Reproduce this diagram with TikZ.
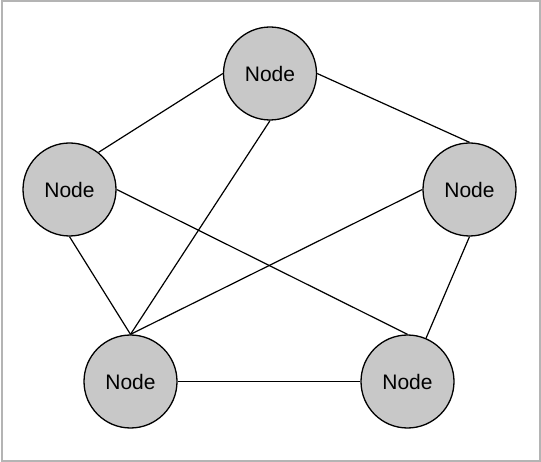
\documentclass[tikz,border=0pt]{standalone}
\usepackage{fontspec}
\setmainfont{Liberation Sans}
\definecolor{nodefill}{RGB}{200,200,200}
\definecolor{framegray}{RGB}{180,180,180}
\begin{document}
\begin{tikzpicture}[x=1pt,y=-1pt,
  nodecirc/.style={circle,draw=black,line width=1.3pt,fill=nodefill,minimum size=93pt,inner sep=0pt,font=\fontsize{21}{24}\selectfont},
  edge/.style={draw=black,line width=1.2pt}]
\path[use as bounding box] (0,0) rectangle (541,462);
\draw[framegray,line width=2pt] (1.5,1.5) rectangle (539.5,460.5);
\node[nodecirc] (top) at (270,73.5) {Node};
\node[nodecirc] (left) at (69.5,189.5) {Node};
\node[nodecirc] (right) at (469.5,189.5) {Node};
\node[nodecirc] (bl) at (130.5,381.5) {Node};
\node[nodecirc] (br) at (407.5,381.5) {Node};
\draw[edge] (top.west) -- (left.52);
\draw[edge] (top.east) -- (right.north);
\draw[edge] (top.south) -- (bl.north);
\draw[edge] (left.south) -- (bl.north);
\draw[edge] (left.east) -- (br.north);
\draw[edge] (right.west) -- (bl.north);
\draw[edge] (right.south) -- (br);
\draw[edge] (bl.east) -- (br.west);
\end{tikzpicture}
\end{document}
